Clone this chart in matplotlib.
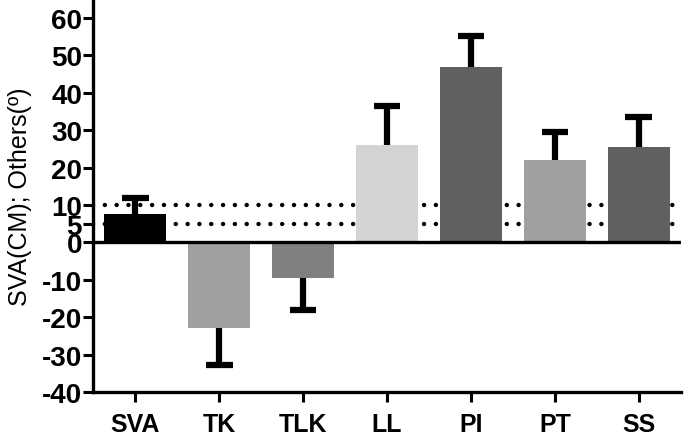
import numpy as np
import matplotlib.pyplot as plt

# valores
categorias = ["SVA", "TK", "TLK", "LL", "PI", "PT", "SS"]
medias = [7.5, -22.8, -9.4, 26.0, 46.9, 22.0, 25.5]
erros = [4.3, 10.0, 8.6, 10.5, 8.3, 7.5, 8.0]
cores = ["#000000", "#a0a0a0", "#808080", "#d3d3d3", "#606060", "#a0a0a0", "#606060"]
linhas_ref = [10, 5]

plt.rcParams["font.family"] = ["Liberation Sans", "DejaVu Sans"]
plt.rcParams["axes.unicode_minus"] = False

fig = plt.figure(figsize=(6.85, 4.39), dpi=100)
ax = fig.add_axes([0.136, 0.104, 0.858, 0.896])

x = np.arange(len(categorias))
medias_arr = np.array(medias)
erros_arr = np.array(erros)
sinal = np.sign(medias_arr)
topo_erro = medias_arr + sinal * erros_arr

# linhas pontilhadas de referência (atrás das barras)
for yref in linhas_ref:
    ax.axhline(yref, color="black", lw=3.2, linestyle=(0, (0.01, 2.65)),
               dash_capstyle="round", zorder=1)

ax.bar(x, medias_arr, width=0.73, color=cores, zorder=2)

# barras de erro só para o lado de fora
ax.vlines(x, medias_arr, topo_erro, color="black", lw=4.5, zorder=3)
ax.hlines(topo_erro, x - 0.16, x + 0.16, color="black", lw=4.5, zorder=3)

ax.axhline(0, color="black", lw=2.4, zorder=4)

ax.set_xlim(-0.5, 6.5)
ax.set_ylim(-40, 65)
ax.set_yticks([-40, -30, -20, -10, 0, 5, 10, 20, 30, 40, 50, 60])
ax.set_xticks(x)
ax.set_xticklabels(categorias)

for s in ["top", "right"]:
    ax.spines[s].set_visible(False)
for s in ["left", "bottom"]:
    ax.spines[s].set_linewidth(2.4)

ax.tick_params(axis="both", width=2.2, length=7)
ax.tick_params(axis="y", pad=1, labelsize=20)
ax.tick_params(axis="x", pad=7, labelsize=18)
for lbl in ax.get_yticklabels() + ax.get_xticklabels():
    lbl.set_fontweight("bold")

ax.set_ylabel("SVA(CM); Others(º)", fontsize=18, labelpad=7)

fig.savefig("out.png", dpi=100)
